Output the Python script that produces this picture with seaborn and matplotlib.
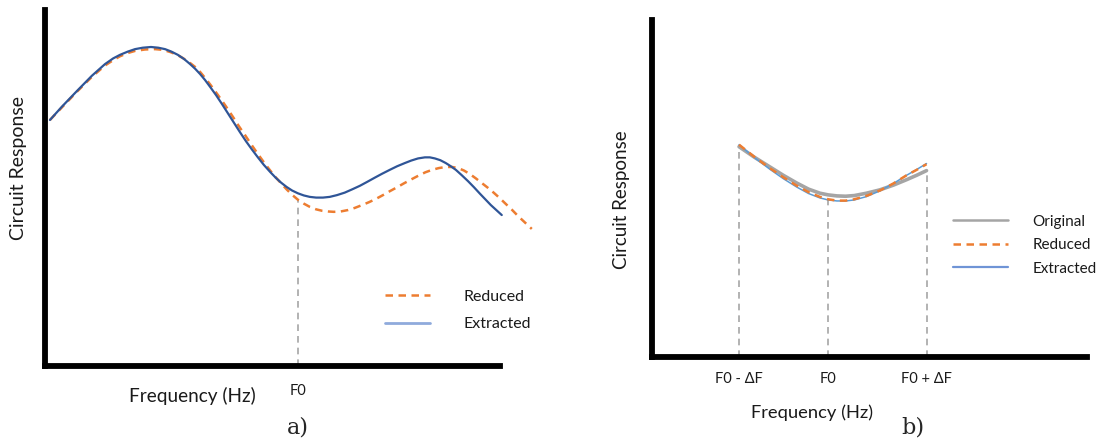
import matplotlib
matplotlib.use("Agg")
import matplotlib.pyplot as plt
import seaborn as sns
import pandas as pd
from matplotlib.lines import Line2D

# ---------------- panel a: full sweep ----------------
freq_a_extracted = [1.1, 3.7, 7.0, 10.3, 13.2, 15.0, 16.5, 18.2, 19.8, 21.5, 23.3, 24.9, 26.4,
                    27.8, 29.2, 30.6, 31.9, 33.0, 34.1, 35.2, 36.3, 37.6, 38.9, 40.2, 41.5,
                    42.8, 44.2, 45.5, 46.8, 48.1, 49.5, 50.7, 51.9, 53.1, 54.3, 55.6, 56.9,
                    58.2, 59.6, 61.1, 62.6, 64.2, 65.9, 67.5, 69.2, 70.8, 72.5, 74.1, 75.8,
                    77.4, 79.1, 80.5, 82.0, 83.5, 84.6, 85.7, 86.9, 88.1, 89.2, 90.3, 91.6,
                    93.0, 94.3, 95.6, 96.8, 98.0, 99.2, 100.4]
resp_a_extracted = [69.1, 72.8, 77.2, 81.5, 84.8, 86.4, 87.4, 88.3, 89.0, 89.4, 89.6, 89.4, 89.0,
                    88.3, 87.4, 86.2, 84.8, 83.5, 82.0, 80.3, 78.4, 76.1, 73.6, 71.0, 68.4,
                    65.8, 63.1, 60.8, 58.6, 56.5, 54.5, 52.9, 51.5, 50.3, 49.3, 48.5, 47.9,
                    47.5, 47.3, 47.3, 47.5, 48.0, 48.7, 49.6, 50.6, 51.7, 52.9, 54.0, 55.1,
                    56.1, 57.0, 57.7, 58.3, 58.6, 58.6, 58.3, 57.8, 57.0, 56.1, 55.1, 53.6,
                    51.9, 50.2, 48.4, 46.8, 45.2, 43.8, 42.4]

freq_a_reduced = [1.1, 3.7, 7.0, 10.3, 13.2, 15.0, 16.5, 18.2, 19.8, 22.0, 24.2, 25.9, 27.5,
                  28.9, 30.3, 31.7, 33.0, 34.1, 35.2, 36.3, 37.4, 38.7, 40.0, 41.3, 42.6,
                  44.0, 45.3, 46.6, 47.9, 49.2, 50.5, 51.9, 53.2, 54.4, 55.6, 56.9, 58.2,
                  59.6, 60.9, 62.2, 63.5, 65.0, 66.6, 68.1, 69.7, 71.2, 72.7, 74.3, 75.8,
                  77.4, 78.9, 80.5, 82.0, 83.6, 85.1, 86.6, 88.1, 89.5, 90.8, 92.1, 93.4,
                  94.7, 96.0, 97.4, 98.7, 100.0, 101.3, 102.7, 104.0, 105.5, 107.0]
resp_a_reduced = [69.1, 72.6, 77.0, 81.2, 84.4, 85.9, 87.0, 87.9, 88.5, 88.9, 89.0, 88.8, 88.2,
                  87.5, 86.5, 85.3, 84.0, 82.6, 80.9, 79.1, 77.2, 74.9, 72.5, 70.0, 67.4,
                  64.8, 62.3, 59.9, 57.6, 55.4, 53.3, 51.3, 49.5, 48.0, 46.7, 45.6, 44.7,
                  44.0, 43.6, 43.4, 43.3, 43.4, 43.8, 44.4, 45.2, 46.0, 46.9, 48.0, 49.1,
                  50.2, 51.3, 52.4, 53.4, 54.4, 55.1, 55.6, 55.9, 55.9, 55.6, 54.9, 53.9,
                  52.7, 51.4, 50.0, 48.6, 47.1, 45.5, 43.8, 42.1, 40.3, 38.5]

f0_a = 55.6
f0_a_label = "F0"

# ---------------- panel b: band around F0 ----------------
freq_b = [20.0, 23.5, 27.1, 30.2, 33.3, 36.0, 38.6, 40.5, 42.5, 44.5, 46.5, 49.3,
          52.4, 55.5, 58.5, 60.8, 63.1]
resp_b_original = [62.4, 59.3, 56.4, 53.9, 51.6, 49.8, 48.6, 48.1, 47.8, 47.7, 47.9, 48.6,
                   49.6, 51.0, 52.6, 53.9, 55.3]
resp_b_reduced = [63.0, 59.4, 56.0, 53.3, 50.8, 48.9, 47.5, 46.8, 46.4, 46.4, 46.8, 47.8,
                  49.4, 51.5, 53.9, 55.5, 57.2]
resp_b_extracted = [63.0, 59.2, 55.7, 52.9, 50.4, 48.5, 47.2, 46.6, 46.3, 46.3, 46.6, 47.6,
                    49.3, 51.5, 53.9, 55.6, 57.4]

band_ticks = [20.0, 40.5, 63.1]
band_labels = ["F0 - ΔF", "F0", "F0 + ΔF"]

# ---------------- colours ----------------
ORANGE = "#ED7D31"
DARK_BLUE = "#2F5597"
LIGHT_BLUE = "#8FAADC"
BLUE = "#5B9BD5"
GRAY = "#A5A5A5"
GUIDE = "#A6A6A6"
TEXT = "#1A1A1A"

sns.set_theme(style="white")
plt.rcParams["font.family"] = ["Lato", "DejaVu Sans"]
plt.rcParams["lines.solid_joinstyle"] = "round"
plt.rcParams["lines.dash_joinstyle"] = "round"

fig = plt.figure(figsize=(10.99, 4.41), dpi=100)
ax_a = fig.add_axes([0.0409, 0.1701, 0.4140, 0.8073])
ax_b = fig.add_axes([0.5933, 0.1905, 0.3958, 0.7642])

for ax in (ax_a, ax_b):
    ax.set_xlim(0, 100)
    ax.set_ylim(0, 100)
    ax.set_yticks([])
    for side in ("top", "right"):
        ax.spines[side].set_visible(False)
    for side in ("left", "bottom"):
        ax.spines[side].set_color("black")
        ax.spines[side].set_linewidth(4.2)
        ax.spines[side].set_capstyle("projecting")
    ax.tick_params(axis="x", length=0, labelsize=10.5, colors=TEXT)
    ax.set_facecolor("white")

# ---- panel a ----
df_a_ext = pd.DataFrame({"freq": freq_a_extracted, "resp": resp_a_extracted})
df_a_red = pd.DataFrame({"freq": freq_a_reduced, "resp": resp_a_reduced})

f0_top = resp_a_reduced[freq_a_reduced.index(f0_a)]
ax_a.vlines(f0_a, 0, f0_top, colors=GUIDE, linewidth=1.2, linestyles=(0, (4, 3)), zorder=1)

sns.lineplot(data=df_a_ext, x="freq", y="resp", ax=ax_a, color=DARK_BLUE,
             linewidth=1.6, estimator=None, sort=False, clip_on=False, zorder=3)
sns.lineplot(data=df_a_red, x="freq", y="resp", ax=ax_a, color=ORANGE,
             linewidth=1.8, estimator=None, sort=False, clip_on=False, zorder=2)
ax_a.lines[-1].set_linestyle((0, (3, 2.2)))

ax_a.set_xticks([f0_a])
ax_a.set_xticklabels([f0_a_label])
ax_a.tick_params(axis="x", pad=13)

ax_a.set_xlabel("Frequency (Hz)", fontsize=13.7, color=TEXT)
ax_a.xaxis.set_label_coords(0.323, -0.083)
ax_a.xaxis.label.set_va("center")
ax_a.set_ylabel("")
ax_a.text(-0.059, 0.556, "Circuit Response", transform=ax_a.transAxes, rotation=90,
          ha="center", va="center", fontsize=14, color=TEXT)

handles_a = [
    Line2D([], [], color=ORANGE, linewidth=1.8, linestyle=(0, (3, 2.2))),
    Line2D([], [], color=LIGHT_BLUE, linewidth=2.0),
]
ax_a.legend(handles_a, ["Reduced", "Extracted"], loc="center left",
            bbox_to_anchor=(0.747, 0.156), frameon=False, fontsize=11.5,
            handlelength=2.8, handletextpad=2.1, labelspacing=0.85,
            borderpad=0, borderaxespad=0, labelcolor=TEXT)

# ---- panel b ----
df_b = pd.DataFrame({
    "freq": freq_b,
    "Original": resp_b_original,
    "Reduced": resp_b_reduced,
    "Extracted": resp_b_extracted,
})

for x in band_ticks:
    i = freq_b.index(x)
    top = min(resp_b_original[i], resp_b_reduced[i], resp_b_extracted[i])
    ax_b.vlines(x, 0, top, colors=GUIDE, linewidth=1.2, linestyles=(0, (4, 3)), zorder=1)

sns.lineplot(data=df_b, x="freq", y="Original", ax=ax_b, color=GRAY,
             linewidth=2.6, estimator=None, zorder=2)
sns.lineplot(data=df_b, x="freq", y="Extracted", ax=ax_b, color=BLUE,
             linewidth=1.1, estimator=None, zorder=3)
sns.lineplot(data=df_b, x="freq", y="Reduced", ax=ax_b, color=ORANGE,
             linewidth=1.8, estimator=None, zorder=4)
ax_b.lines[-1].set_linestyle((0, (3, 2.2)))

ax_b.set_xticks(band_ticks)
ax_b.set_xticklabels(band_labels)
ax_b.tick_params(axis="x", pad=11)

ax_b.set_xlabel("Frequency (Hz)", fontsize=13.2, color=TEXT)
ax_b.xaxis.set_label_coords(0.368, -0.166)
ax_b.xaxis.label.set_va("center")
ax_b.set_ylabel("")
ax_b.text(-0.071, 0.466, "Circuit Response", transform=ax_b.transAxes, rotation=90,
          ha="center", va="center", fontsize=13.5, color=TEXT)

handles_b = [
    Line2D([], [], color=GRAY, linewidth=1.8),
    Line2D([], [], color=ORANGE, linewidth=1.8, linestyle=(0, (3, 2.2))),
    Line2D([], [], color="#6F94D6", linewidth=1.6),
]
ax_b.legend(handles_b, ["Original", "Reduced", "Extracted"], loc="center left",
            bbox_to_anchor=(0.692, 0.332), frameon=False, fontsize=11,
            handlelength=3.6, handletextpad=1.6, labelspacing=0.62,
            borderpad=0, borderaxespad=0, labelcolor=TEXT)

# panel captions
fig.text(0.271, 0.0295, "a)", fontsize=16, family="DejaVu Serif", ha="center", va="center")
fig.text(0.831, 0.0295, "b)", fontsize=16, family="DejaVu Serif", ha="center", va="center")

fig.savefig("out.png", dpi=100, facecolor="white")
